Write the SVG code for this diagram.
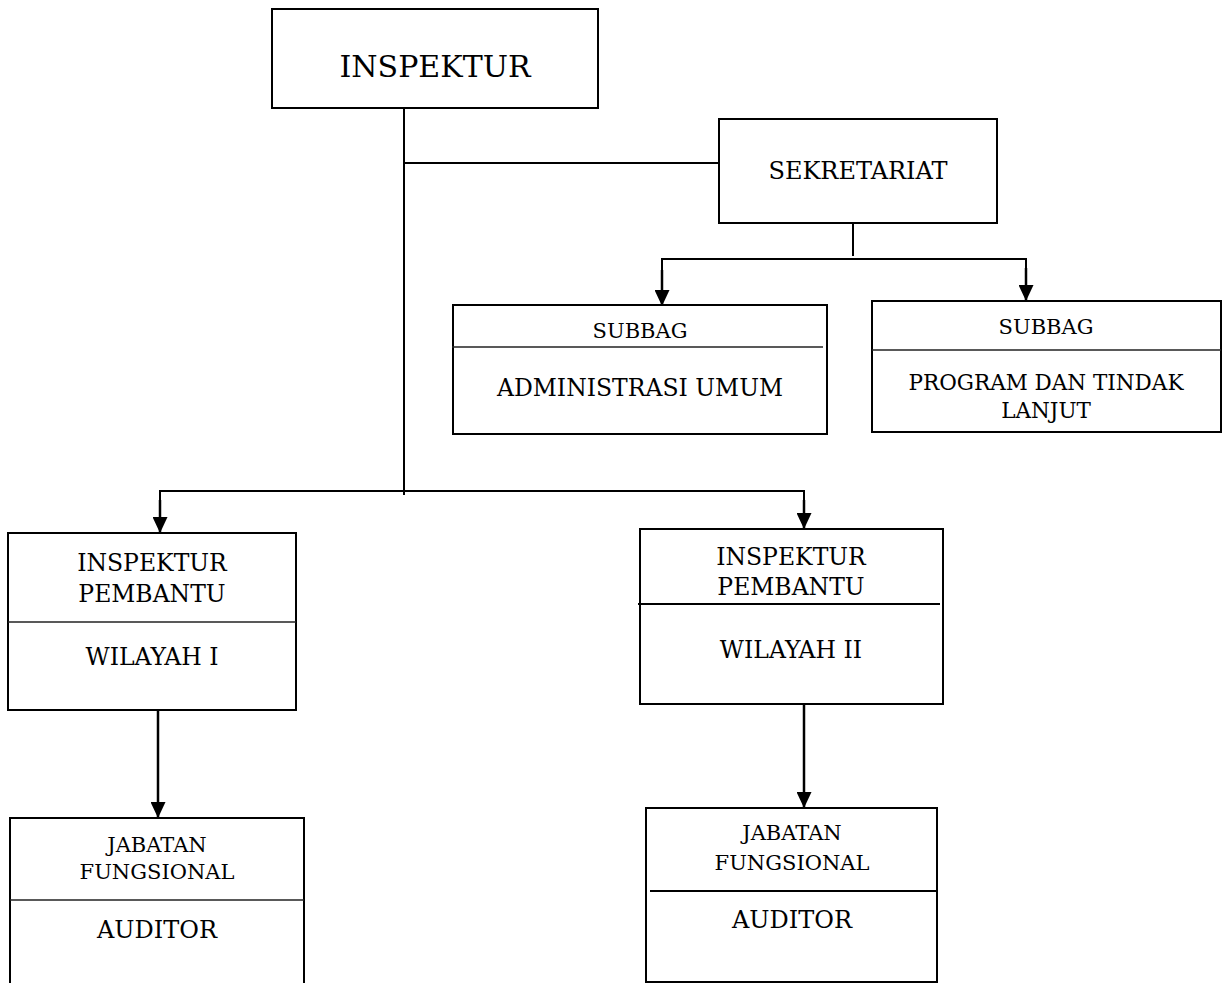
<svg xmlns="http://www.w3.org/2000/svg" width="1223" height="983" viewBox="0 0 1223 983">
  <defs>
    <style>
      .box { fill: #fff; stroke: #000; stroke-width: 2; }
      .div { stroke: #222; stroke-width: 1.5; fill: none; }
      .ln { stroke: #000; stroke-width: 2; fill: none; }
      .arr { stroke: #000; stroke-width: 2.5; fill: none; marker-end: url(#head); }
      text { font-family: "DejaVu Serif", "Liberation Serif", serif; fill: #000; text-anchor: middle; }
    </style>
    <marker id="head" viewBox="0 0 16 15" refX="16" refY="7.5" markerWidth="16" markerHeight="15" markerUnits="userSpaceOnUse" orient="auto">
      <path d="M0,0 L16,7.5 L0,15 Z" fill="#000"/>
    </marker>
  </defs>
  <rect width="1223" height="983" fill="#fff"/>

  <!-- connectors -->
  <g id="connectors">
    <line class="ln" x1="404" y1="108" x2="404" y2="495"/>
    <line class="ln" x1="404" y1="163" x2="719" y2="163"/>
    <line class="ln" x1="853" y1="223" x2="853" y2="256"/>
    <polyline class="ln" points="662,274 662,259 1026,259 1026,272"/>
    <line class="arr" x1="662" y1="270" x2="662" y2="306"/>
    <line class="arr" x1="1026" y1="268" x2="1026" y2="301"/>
    <polyline class="ln" points="160,505 160,491 804,491 804,505"/>
    <line class="arr" x1="160" y1="500" x2="160" y2="533"/>
    <line class="arr" x1="804" y1="500" x2="804" y2="529"/>
    <line class="arr" x1="158" y1="711" x2="158" y2="818"/>
    <line class="arr" x1="804" y1="705" x2="804" y2="808"/>
  </g>

  <!-- top level -->
  <g id="inspektur">
    <rect class="box" x="272" y="9" width="326" height="99"/>
    <text x="435" y="77" font-size="30">INSPEKTUR</text>
  </g>

  <g id="sekretariat">
    <rect class="box" x="719" y="119" width="278" height="104"/>
    <text x="858" y="179" font-size="24">SEKRETARIAT</text>
  </g>

  <g id="subbag-umum">
    <rect class="box" x="453" y="305" width="374" height="129"/>
    <line class="div" x1="452" y1="347" x2="823" y2="347"/>
    <text x="640" y="338" font-size="21">SUBBAG</text>
    <text x="640" y="396" font-size="23.5">ADMINISTRASI UMUM</text>
  </g>

  <g id="subbag-program">
    <rect class="box" x="872" y="301" width="349" height="131"/>
    <line class="div" x1="872" y1="350" x2="1221" y2="350"/>
    <text x="1046" y="334" font-size="21">SUBBAG</text>
    <text x="1046" y="390" font-size="21.5">PROGRAM DAN TINDAK</text>
    <text x="1046" y="418" font-size="21.5">LANJUT</text>
  </g>

  <!-- regional inspectors -->
  <g id="irban-1">
    <rect class="box" x="8" y="533" width="288" height="177"/>
    <line class="div" x1="8" y1="622" x2="296" y2="622"/>
    <text x="152" y="571" font-size="23.5">INSPEKTUR</text>
    <text x="152" y="602" font-size="23.5">PEMBANTU</text>
    <text x="152" y="665" font-size="23.5">WILAYAH I</text>
  </g>

  <g id="irban-2">
    <rect class="box" x="640" y="529" width="303" height="175"/>
    <line class="ln" x1="638" y1="604" x2="940" y2="604"/>
    <text x="791" y="565" font-size="23.5">INSPEKTUR</text>
    <text x="791" y="595" font-size="23.5">PEMBANTU</text>
    <text x="791" y="658" font-size="23.5">WILAYAH II</text>
  </g>

  <!-- functional positions -->
  <g id="jafung-1">
    <rect class="box" x="10" y="818" width="294" height="200"/>
    <line class="div" x1="10" y1="900" x2="304" y2="900"/>
    <text x="157" y="852" font-size="21">JABATAN</text>
    <text x="157" y="879" font-size="21">FUNGSIONAL</text>
    <text x="157" y="938" font-size="24">AUDITOR</text>
  </g>

  <g id="jafung-2">
    <rect class="box" x="646" y="808" width="291" height="174"/>
    <line class="ln" x1="650" y1="891" x2="937" y2="891"/>
    <text x="792" y="840" font-size="21">JABATAN</text>
    <text x="792" y="870" font-size="21">FUNGSIONAL</text>
    <text x="792" y="928" font-size="24">AUDITOR</text>
  </g>
</svg>
